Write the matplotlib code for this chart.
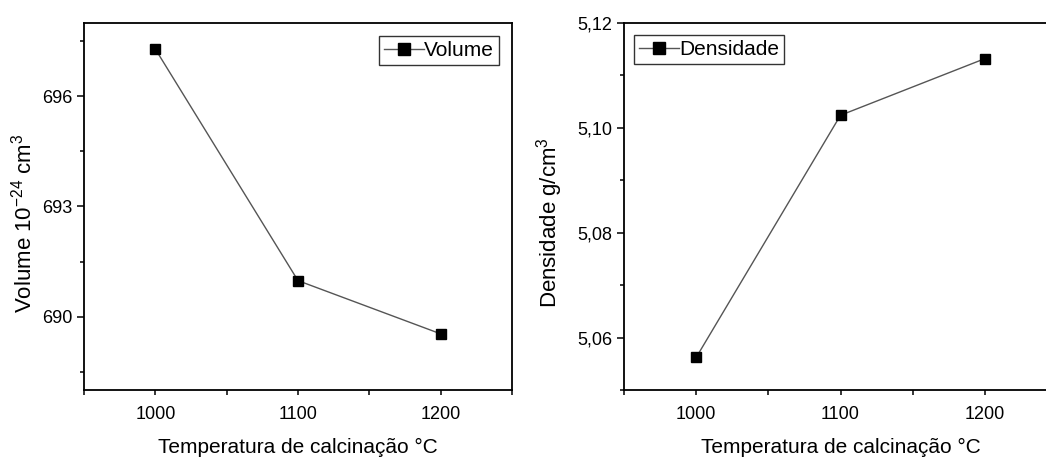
import matplotlib.pyplot as plt
from matplotlib.ticker import MultipleLocator, FuncFormatter

plt.rcParams['font.family'] = ['Liberation Sans', 'DejaVu Sans']
plt.rcParams['mathtext.fontset'] = 'custom'
plt.rcParams['mathtext.rm'] = 'Liberation Sans'
plt.rcParams['mathtext.it'] = 'Liberation Sans:italic'
plt.rcParams['mathtext.default'] = 'regular'

# Dados
temperatura = [1000, 1100, 1200]
volume = [697.29, 690.98, 689.53]
densidade = [5.0562, 5.1024, 5.1132]

W, H = 1046, 457
fig = plt.figure(figsize=(W / 100, H / 100), dpi=100)

def px_ax(x0, x1, y0, y1):
    return fig.add_axes([x0 / W, 1 - y1 / H, (x1 - x0) / W, (y1 - y0) / H])

ax1 = px_ax(84, 512, 23, 390)
ax2 = px_ax(624, 1057, 23, 390)

def estilo(ax):
    for s in ax.spines.values():
        s.set_linewidth(1.3)
    ax.xaxis.set_major_locator(MultipleLocator(100))
    ax.xaxis.set_minor_locator(MultipleLocator(50))
    ax.tick_params(axis='x', which='both', direction='out', length=3.5, width=1.1,
                   labelsize=13, pad=8, top=False)
    ax.tick_params(axis='y', which='major', direction='out', length=5, width=1.1,
                   labelsize=13, right=False)
    ax.tick_params(axis='y', which='minor', direction='out', length=3, width=1.1, right=False)
    ax.set_xlim(950, 1250)
    ax.set_xlabel('Temperatura de calcinação °C', fontsize=15, labelpad=11)

def legenda(ax, loc, anchor):
    leg = ax.legend(loc=loc, bbox_to_anchor=anchor, borderaxespad=0, fontsize=15,
                    frameon=True, fancybox=False, edgecolor='black', markerscale=1.3,
                    handlelength=1.9, handletextpad=0.0, borderpad=0.25)
    leg.get_frame().set_linewidth(1.0)

# Volume
ax1.plot(temperatura, volume, color='#555555', lw=1, marker='s', ms=7,
         mfc='black', mec='black', label='Volume')
ax1.set_ylim(688, 698)
ax1.yaxis.set_major_locator(MultipleLocator(3))
ax1.yaxis.set_minor_locator(MultipleLocator(1.5))
ax1.set_ylabel('Volume 10$^{-24}$ cm$^3$', fontsize=16)
ax1.yaxis.set_label_coords(-0.110, 0.455)
estilo(ax1)
ax1.set_yticks([690, 693, 696])
legenda(ax1, 'upper right', (1 - 13 / 428, 1 - 13 / 367))

# Densidade
ax2.plot(temperatura, densidade, color='#555555', lw=1, marker='s', ms=7,
         mfc='black', mec='black', label='Densidade')
ax2.set_ylim(5.05, 5.12)
ax2.yaxis.set_major_locator(MultipleLocator(0.02))
ax2.yaxis.set_minor_locator(MultipleLocator(0.01))
ax2.yaxis.set_major_formatter(FuncFormatter(lambda v, p: f'{v:.2f}'.replace('.', ',')))
ax2.set_yticks([5.06, 5.08, 5.10, 5.12])
ax2.set_ylabel('Densidade g/cm$^3$', fontsize=16)
ax2.yaxis.set_label_coords(-0.136, 0.455)
estilo(ax2)
legenda(ax2, 'upper left', (10 / 433, 1 - 12 / 367))

fig.savefig('out.png', dpi=100)
